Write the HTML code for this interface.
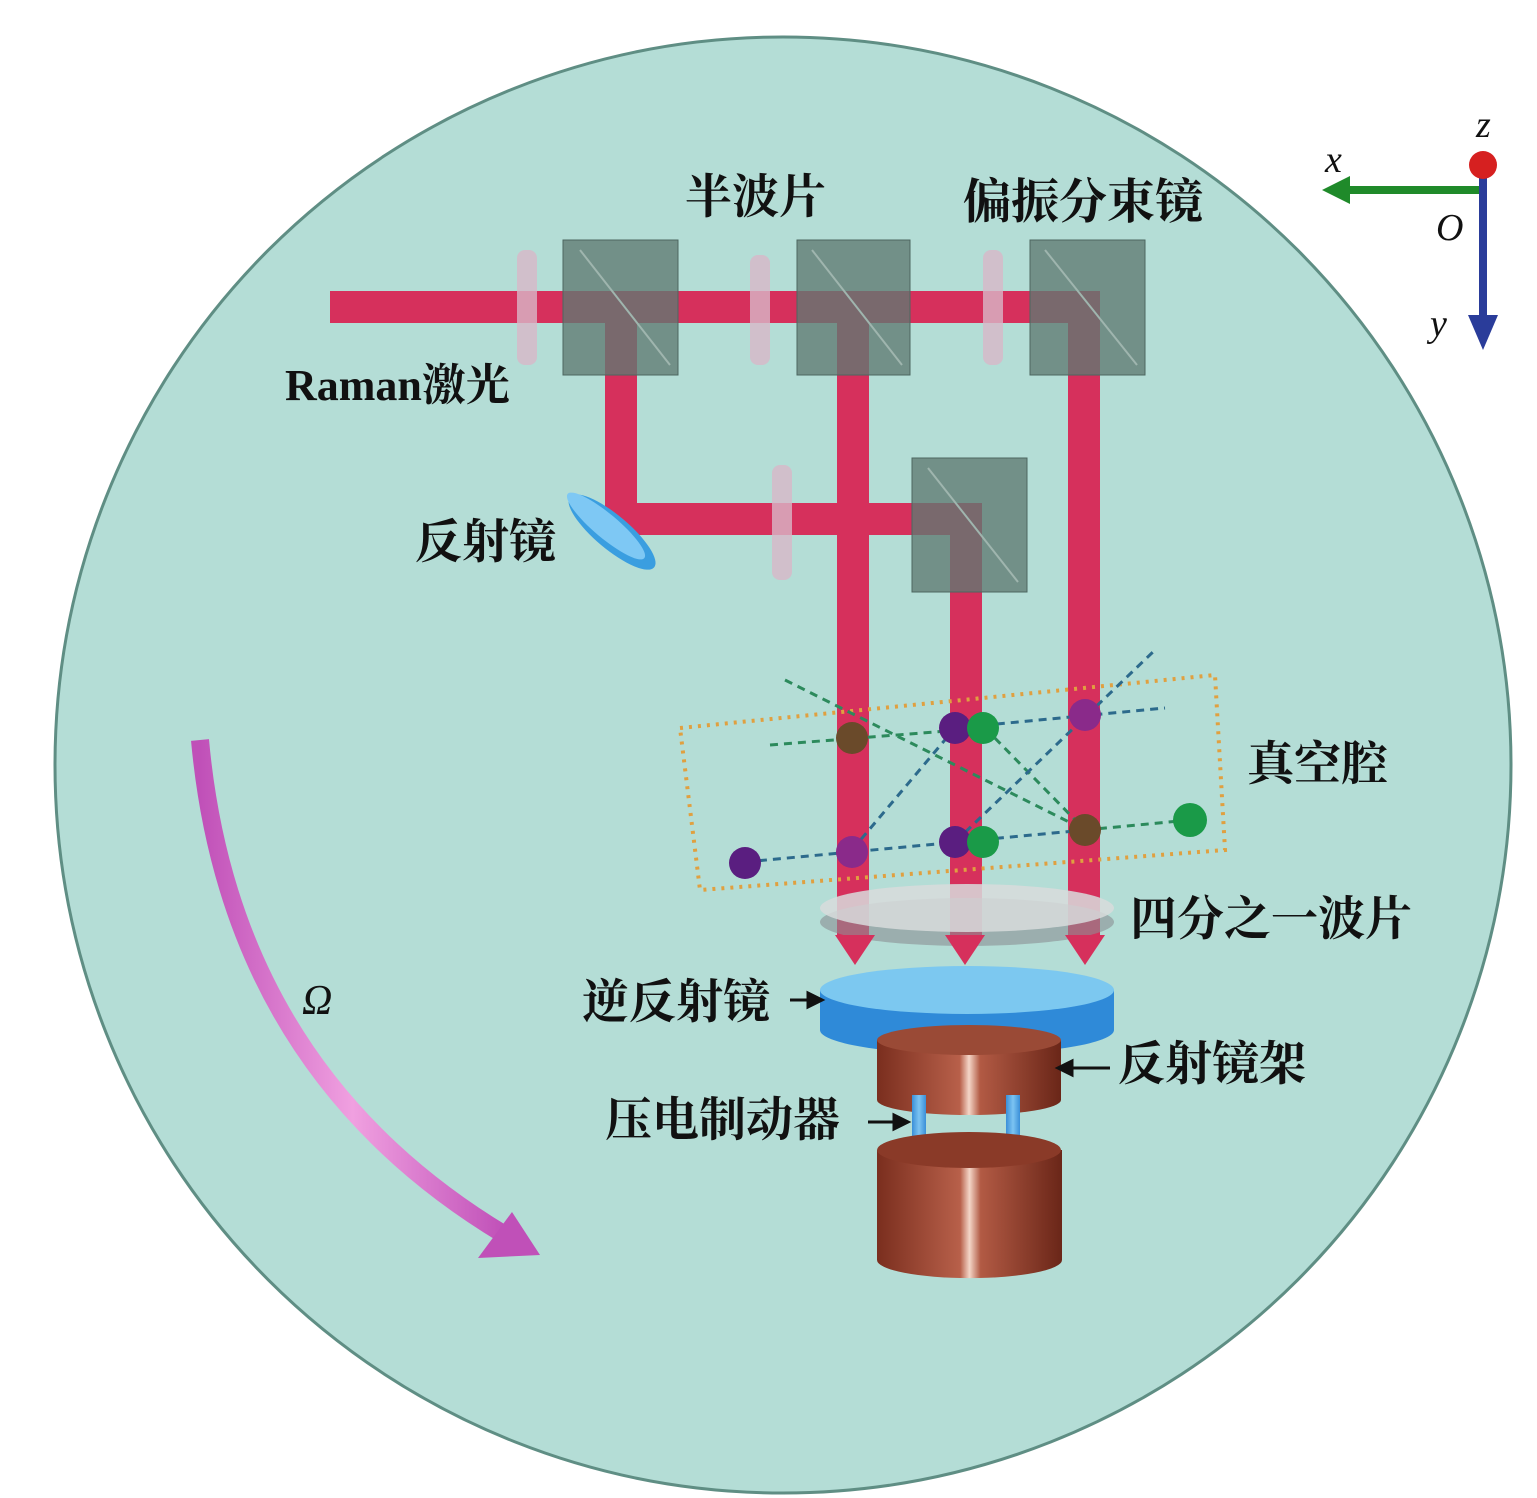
<!DOCTYPE html>
<html><head><meta charset="utf-8"><style>
body{margin:0;background:#fff;}
svg{display:block;}
text{font-family:"Liberation Serif","Noto Serif CJK SC","Noto Sans CJK SC",serif;fill:#111;}
</style></head><body>
<svg width="1537" height="1498" viewBox="0 0 1537 1498" xmlns="http://www.w3.org/2000/svg">
<defs>
<linearGradient id="cop" x1="0" x2="1"><stop offset="0" stop-color="#7a2e1e"/><stop offset="0.45" stop-color="#b8604a"/><stop offset="0.5" stop-color="#f4d6c8"/><stop offset="0.56" stop-color="#b25a44"/><stop offset="1" stop-color="#6a2618"/></linearGradient>
<linearGradient id="bl" x1="0" x2="1"><stop offset="0" stop-color="#3a8fd8"/><stop offset="0.5" stop-color="#7cc4f2"/><stop offset="1" stop-color="#3a8fd8"/></linearGradient>
<linearGradient id="om" x1="0" x2="1"><stop offset="0" stop-color="#c050b8"/><stop offset="0.5" stop-color="#f0a0e0"/><stop offset="1" stop-color="#c050b8"/></linearGradient>
</defs>
<circle cx="783" cy="765" r="728" fill="#b4ddd6" stroke="#5f8e84" stroke-width="3"/>
<g fill="#d6305c">
<rect x="330" y="291" width="770" height="32"/>
<rect x="605" y="306" width="32" height="228"/>
<rect x="620" y="503" width="362" height="32"/>
<rect x="950" y="518" width="32" height="420"/>
<rect x="837" y="306" width="32" height="632"/>
<rect x="1068" y="306" width="32" height="632"/>
</g>
<g fill="#5f7a72" fill-opacity="0.78" stroke="#4d6660" stroke-width="1">
<rect x="563" y="240" width="115" height="135"/>
<rect x="797" y="240" width="113" height="135"/>
<rect x="1030" y="240" width="115" height="135"/>
<rect x="912" y="458" width="115" height="134"/>
</g>
<g stroke="#9fb5ae" stroke-width="2">
<line x1="580" y1="250" x2="670" y2="365"/><line x1="812" y1="250" x2="902" y2="365"/><line x1="1045" y1="250" x2="1137" y2="365"/><line x1="928" y1="468" x2="1018" y2="582"/>
</g>
<g fill="#d8b8c8" fill-opacity="0.8">
<rect x="517" y="250" width="20" height="115" rx="8"/>
<rect x="750" y="255" width="20" height="110" rx="8"/>
<rect x="983" y="250" width="20" height="115" rx="8"/>
<rect x="772" y="465" width="20" height="115" rx="8"/>
</g>
<ellipse cx="612" cy="532" rx="55" ry="17" transform="rotate(40 612 532)" fill="#3a9ee0"/>
<ellipse cx="606" cy="526" rx="50" ry="12" transform="rotate(40 606 526)" fill="#7ec8f4"/>
<polygon points="680,728 1215,675 1225,850 700,890" fill="none" stroke="#e0a040" stroke-width="4" stroke-dasharray="3 6"/>
<g stroke-width="3" stroke-dasharray="8 6" fill="none">
<line x1="745" y1="862" x2="1085" y2="830" stroke="#2c6a8c"/>
<line x1="1085" y1="830" x2="1190" y2="820" stroke="#2c8a5c"/>
<line x1="770" y1="745" x2="985" y2="728" stroke="#2c8a5c"/>
<line x1="955" y1="728" x2="1165" y2="708" stroke="#2c6a8c"/>
<line x1="785" y1="680" x2="1085" y2="830" stroke="#2c8a5c"/>
<line x1="852" y1="850" x2="955" y2="728" stroke="#2c6a8c"/>
<line x1="985" y1="728" x2="1085" y2="830" stroke="#2c8a5c"/>
<line x1="955" y1="842" x2="1155" y2="650" stroke="#2c6a8c"/>
</g>
<g>
<circle cx="745" cy="863" r="16" fill="#5a1e80"/>
<circle cx="852" cy="852" r="16" fill="#8a2a8a"/>
<circle cx="955" cy="842" r="16" fill="#5a1e80"/><circle cx="983" cy="842" r="16" fill="#1a9a48"/>
<circle cx="1085" cy="830" r="16" fill="#6a4a2a"/><circle cx="1190" cy="820" r="17" fill="#1a9a48"/>
<circle cx="852" cy="738" r="16" fill="#6a4a2a"/>
<circle cx="955" cy="728" r="16" fill="#5a1e80"/><circle cx="983" cy="728" r="16" fill="#1a9a48"/>
<circle cx="1085" cy="715" r="16" fill="#8a2a8a"/>
</g>
<ellipse cx="967" cy="922" rx="147" ry="24" fill="#8a8f92" fill-opacity="0.6"/>
<ellipse cx="967" cy="908" rx="147" ry="24" fill="#d8dcdc" fill-opacity="0.85"/>
<g fill="#d6305c">
<polygon points="835,935 875,935 855,965"/><polygon points="945,935 985,935 965,965"/><polygon points="1065,935 1105,935 1085,965"/>
</g>
<path d="M820 990 v40 a147 24 0 0 0 294 0 v-40z" fill="#2f8ad8"/>
<ellipse cx="967" cy="990" rx="147" ry="24" fill="#7cc8f0"/>
<path d="M877 1040 v60 a92 15 0 0 0 184 0 v-60z" fill="url(#cop)"/>
<ellipse cx="969" cy="1040" rx="92" ry="15" fill="#9a4a36"/>
<rect x="912" y="1095" width="14" height="45" fill="url(#bl)"/>
<rect x="1006" y="1095" width="14" height="45" fill="url(#bl)"/>
<path d="M877 1150 v110 a92 18 0 0 0 185 0 v-110z" fill="url(#cop)"/>
<ellipse cx="969" cy="1150" rx="92" ry="18" fill="#8a3a28"/>
<path d="M200 740 Q230 1070 505 1235" fill="none" stroke="url(#om)" stroke-width="18"/>
<polygon points="478,1258 540,1255 512,1212" fill="#c050b8"/>
<line x1="1483" y1="190" x2="1345" y2="190" stroke="#1f8a2a" stroke-width="8"/>
<polygon points="1322,190 1350,176 1350,204" fill="#1f8a2a"/>
<line x1="1483" y1="170" x2="1483" y2="320" stroke="#2a3c9a" stroke-width="8"/>
<polygon points="1483,350 1468,315 1498,315" fill="#2a3c9a"/>
<circle cx="1483" cy="165" r="14" fill="#d62020"/>
<g font-style="italic" font-size="38">
<text x="1325" y="172">x</text><text x="1476" y="137">z</text><text x="1436" y="240">O</text><text x="1430" y="336">y</text>
<text x="302" y="1014" font-size="42">Ω</text>
</g>
<g font-size="47" font-weight="bold">
<text x="685" y="213">半波片</text>
<text x="963" y="218" font-size="48">偏振分束镜</text>
<text x="285" y="400" font-size="44">Raman激光</text>
<text x="415" y="558">反射镜</text>
<text x="1247" y="780">真空腔</text>
<text x="1130" y="935">四分之一波片</text>
<text x="582" y="1018">逆反射镜</text>
<text x="1118" y="1080">反射镜架</text>
<text x="605" y="1136">压电制动器</text>
</g>
<g stroke="#111" stroke-width="3" fill="#111">
<line x1="790" y1="1000" x2="815" y2="1000"/><polygon points="822,1000 808,993 808,1007"/>
<line x1="1110" y1="1068" x2="1065" y2="1068"/><polygon points="1058,1068 1072,1061 1072,1075"/>
<line x1="868" y1="1122" x2="900" y2="1122"/><polygon points="908,1122 894,1115 894,1129"/>
</g>
</svg>
</body></html>
